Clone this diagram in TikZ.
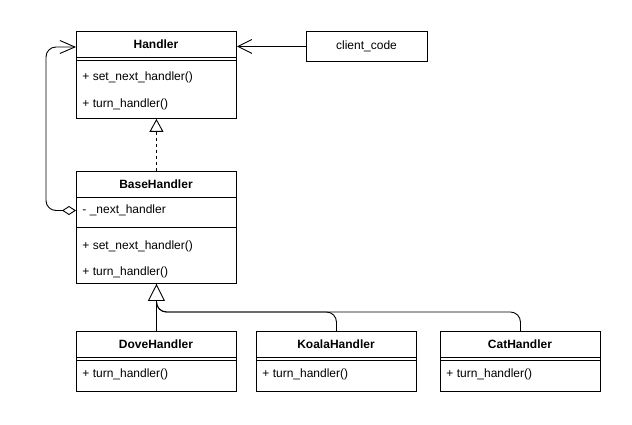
\documentclass[tikz,border=0pt]{standalone}
\usepackage{fontspec}
\setmainfont{Liberation Sans}
\usetikzlibrary{arrows.meta}
\begin{document}
\begin{tikzpicture}[x=1pt,y=-1pt,line width=0.9pt,
  box/.style={draw,rectangle,anchor=north west,inner sep=0pt,minimum width=160pt},
  title/.style={font=\fontsize{12}{14}\selectfont\bfseries,inner sep=0pt,anchor=center},
  member/.style={font=\fontsize{12}{14}\selectfont,inner sep=0pt,anchor=west},
  plain/.style={font=\fontsize{12}{14}\selectfont,inner sep=0pt,anchor=center},
  sepline/.style={line width=0.9pt},
  openarrow/.style={-{Straight Barb[length=14pt,width=14pt,line width=0.9pt]}},
  realize/.style={dashed,dash pattern=on 3pt off 3pt,-{Triangle[open,fill=white,length=13pt,width=14pt,line width=0.9pt]}},
  inherit/.style={-{Triangle[open,fill=white,length=17pt,width=17pt,line width=0.9pt]}}]
\useasboundingbox (0,0) rectangle (632,425);

% Handler
\node[box,minimum height=87pt] (handler) at (76,31) {};
\draw[sepline] (76,57) -- (236,57) (76,60.5) -- (236,60.5);
\node[title] (handlerT) at (156,44) {Handler};
\node[member] (handlerM1) at (82,77.5) {+ set\_next\_handler()};
\node[member] (handlerM2) at (82,104) {+ turn\_handler()};

% client_code
\node[box,minimum width=121pt,minimum height=30pt] (client) at (306,31) {};
\node[plain] (clientT) at (366.5,46) {client\_code};

% BaseHandler
\node[box,minimum height=112pt] (base) at (76,171) {};
\draw[sepline] (76,197) -- (236,197) (76,227) -- (236,227);
\node[title] (baseT) at (156,184.5) {BaseHandler};
\node[member] (baseA) at (82,210.5) {- \_next\_handler};
\node[member] (baseM1) at (82,246) {+ set\_next\_handler()};
\node[member] (baseM2) at (82,272) {+ turn\_handler()};

% Subclasses
\node[box,minimum height=60pt] (dove) at (76,331) {};
\node[box,minimum height=60pt] (koala) at (256,331) {};
\node[box,minimum height=60pt] (cat) at (440,331) {};
\foreach \xl in {76,256,440}{
  \draw[sepline] (\xl,357) -- ++(160,0) (\xl,360.5) -- ++(160,0);
}
\node[title] (doveT) at (156,344) {DoveHandler};
\node[title] (koalaT) at (336,344) {KoalaHandler};
\node[title] (catT) at (520,344) {CatHandler};
\node[member] (doveM) at (82,374) {+ turn\_handler()};
\node[member] (koalaM) at (262,374) {+ turn\_handler()};
\node[member] (catM) at (446,374) {+ turn\_handler()};

% connectors
\coordinate (hin) at (76,47);
\coordinate (aggl) at (76,210.5);
\coordinate (loopx) at (46,0);
\coordinate (bus) at (0,312);

\draw[openarrow] (client.west) -- (client.west -| handler.east);
\draw[realize] (base.north) -- (handler.south);
\draw[rounded corners=10pt] (koala.north) -- (koala.north |- bus) -| (base.south);
\draw[rounded corners=10pt] (cat.north) -- (cat.north |- bus) -| (base.south);
\draw[inherit] (dove.north) -- (base.south);
\draw[rounded corners=10pt,{Diamond[open,fill=white,length=14pt,width=9pt,line width=0.9pt]}-{Straight Barb[length=15pt,width=13pt,line width=0.9pt]}]
  (aggl) -- (loopx |- aggl) -- (loopx |- hin) -- (hin);
\end{tikzpicture}
\end{document}
